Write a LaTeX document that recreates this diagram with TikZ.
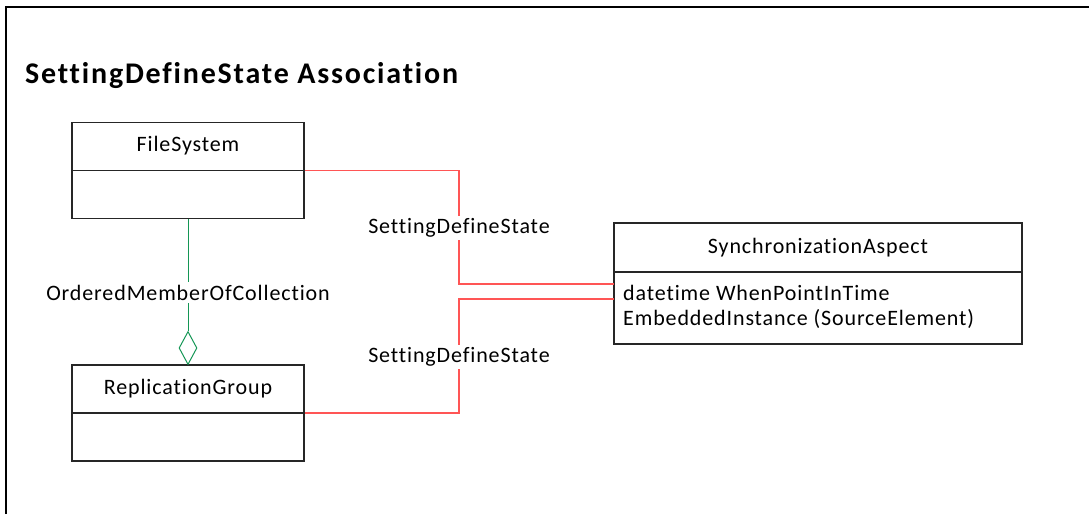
\documentclass[tikz,border=0pt]{standalone}
\usepackage{fontspec}
\setmainfont{Carlito}[Ligatures=NoCommon]
\newfontfamily\lblfont{Carlito}[LetterSpace=4,Ligatures=NoCommon]
\newfontfamily\ttlfont{Carlito}[LetterSpace=6,Ligatures=NoCommon]
\usetikzlibrary{shapes.geometric}
\definecolor{assocred}{RGB}{255,85,85}
\definecolor{aggrgreen}{RGB}{20,150,85}
\begin{document}
\begin{tikzpicture}[x=1pt,y=-1pt,
  umlbox/.style={draw=black!85,line width=1.1pt,inner sep=0pt},
  divider/.style={draw=black!85,line width=1.1pt},
  assoc/.style={draw=assocred,line width=1.4pt},
  aggr/.style={draw=aggrgreen,line width=1pt},
  txt/.style={inner sep=1pt,font=\lblfont\fontsize{22}{26}\selectfont},
  lbl/.style={txt,fill=white,inner sep=3pt},
  attr/.style={txt,anchor=base west}
]
\useasboundingbox (0,0) rectangle (1089,514);
\draw[line width=1.6pt] (6,514) -- (6,7) -- (1089,7);
\node[anchor=base west,inner sep=0pt,font=\ttlfont\bfseries\fontsize{30}{35}\selectfont] (title) at (25,83) {SettingDefineState Association};

% FileSystem
\node[umlbox,minimum width=232pt,minimum height=96pt] (fs) at (188,170.5) {};
\draw[divider] (fs.west) -- (fs.east);
\node[txt] (fsname) at (188,146) {FileSystem};

% ReplicationGroup
\node[umlbox,minimum width=232pt,minimum height=96pt] (rg) at (188,413) {};
\draw[divider] (rg.west) -- (rg.east);
\node[txt] (rgname) at (188,389) {ReplicationGroup};

% SynchronizationAspect
\node[umlbox,minimum width=408pt,minimum height=121pt] (sa) at (818,283.5) {};
\coordinate (sadivw) at (614,272);
\coordinate (sadive) at (1022,272);
\draw[divider] (sadivw) -- (sadive);
\node[txt] (saname) at (818,247.5) {SynchronizationAspect};
\node[attr] (saattr1) at (622,300.5) {datetime WhenPointInTime};
\node[attr] (saattr2) at (622,325) {EmbeddedInstance (SourceElement)};

% aggregation
\node[diamond,draw=aggrgreen,line width=1pt,minimum width=18pt,minimum height=33pt,inner sep=0pt,anchor=south] (dm) at (188,365) {};
\draw[aggr] (fs.south) -- (dm.north);
\node[lbl] (aggrlbl) at (188,292.5) {OrderedMemberOfCollection};

% associations
\coordinate (b1) at (459,170.5);
\coordinate (b2) at (459,284);
\coordinate (sa1) at (614,284);
\draw[assoc] (fs.east) -- (b1) -- (b2) -- (sa1);
\node[lbl] (assoc1) at (459,228) {SettingDefineState};

\coordinate (sa2) at (614,299);
\coordinate (b3) at (459,299);
\coordinate (b4) at (459,413);
\draw[assoc] (sa2) -- (b3) -- (b4) -- (rg.east);
\node[lbl] (assoc2) at (459,357) {SettingDefineState};
\end{tikzpicture}
\end{document}
